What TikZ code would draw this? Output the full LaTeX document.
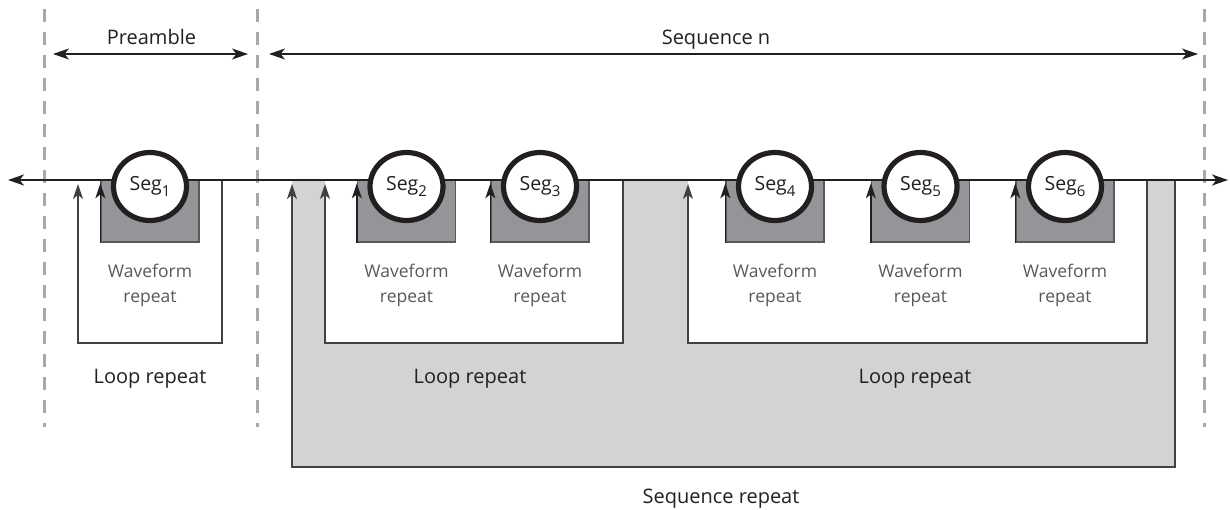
\documentclass[tikz,border=0pt]{standalone}
\usepackage{fontspec}
\setmainfont{Open Sans}
\usetikzlibrary{arrows.meta,shapes.geometric}
\definecolor{ink}{HTML}{231F20}
\definecolor{wgray}{HTML}{58595B}
\definecolor{boxgray}{HTML}{939598}
\definecolor{seqgray}{HTML}{D1D3D4}
\definecolor{dashgray}{HTML}{A7A9AC}
\definecolor{rimgray}{HTML}{414042}
\newcommand\segsub[1]{\raisebox{-6pt}{\fontsize{15}{15}\selectfont #1}}
\begin{document}
\begin{tikzpicture}[x=1pt,y=-1pt,
  tipA/.style={-{Stealth[length=15pt,width=10pt,inset=4pt]}},
  tipB/.style={{Stealth[length=16pt,width=11pt,inset=4.5pt]}-{Stealth[length=16pt,width=11pt,inset=4.5pt]}},
  dashline/.style={draw=dashgray,line width=3pt,dash pattern=on 13pt off 10pt},
  rim/.style={draw=rimgray,line width=1.5pt},
  mainline/.style={draw=ink,line width=2.5pt},
  dimline/.style={draw=ink,line width=1.6pt},
  wbox/.style={rectangle,fill=boxgray,draw=wgray,line width=1.3pt,minimum width=98pt,minimum height=62pt,inner sep=0pt},
  segc/.style={ellipse,fill=white,draw=ink,line width=5.2pt,minimum width=73pt,minimum height=68pt,inner sep=0pt,font=\fontsize{19.5}{22}\selectfont,text=ink},
  lbl/.style={anchor=base,inner sep=0pt,font=\fontsize{20}{24}\selectfont,text=ink},
  wlbl/.style={anchor=base,inner sep=0pt,font=\fontsize{17.5}{21}\selectfont,text=wgray}]
\useasboundingbox (0,0) rectangle (1230,510);
% dashed separators
\draw[dashline] (44,9) -- (44,427);
\draw[dashline] (257,9) -- (257,427);
\draw[dashline] (1204,9) -- (1204,427);
% dimension arrows
\coordinate (pa) at (53,54); \coordinate (pb) at (248,54);
\coordinate (sa) at (269,54); \coordinate (sb) at (1198,54);
\draw[dimline,tipB] (pa) -- (pb);
\draw[dimline,tipB] (sa) -- (sb);
\node[lbl] (tpre) at (151.5,45) {Preamble};
\node[lbl] (tseq) at (716,45) {Sequence n};
% sequence repeat region
\fill[seqgray,even odd rule] (292,180) rectangle (1175,467)
  (325,180) rectangle (623,343) (688,180) rectangle (1147,343);
\coordinate (q1) at (1175,180); \coordinate (q2) at (1175,467);
\coordinate (q3) at (292,467); \coordinate (q4) at (292,184);
\draw[rim,tipA] (q1) -- (q2) -- (q3) -- (q4);
% loop 1
\coordinate (a1) at (222,180); \coordinate (a2) at (222,343);
\coordinate (a3) at (78,343); \coordinate (a4) at (78,184);
\draw[rim,tipA] (a1) -- (a2) -- (a3) -- (a4);
% loop 2
\coordinate (c1) at (623,180); \coordinate (c2) at (623,343);
\coordinate (c3) at (325,343); \coordinate (c4) at (325,184);
\draw[rim,tipA] (c1) -- (c2) -- (c3) -- (c4);
% loop 3
\coordinate (d1) at (1147,180); \coordinate (d2) at (1147,343);
\coordinate (d3) at (688,343); \coordinate (d4) at (688,184);
\draw[rim,tipA] (d1) -- (d2) -- (d3) -- (d4);
% waveform boxes
\foreach \n/\x in {1/150,2/406.5,3/540,4/775,5/920.5,6/1065}{
  \node[wbox] (b\n) at (\x,211) {};
  \draw[rim,draw=ink,tipA] (b\n.south west) -- ([yshift=-4pt]b\n.north west);
  \node[wlbl] (w\n) at (\x,278) {Waveform};
  \node[wlbl] (r\n) at (\x,302) {repeat};
}
% main line
\coordinate (ml) at (8,180); \coordinate (mr) at (1228,180);
\draw[mainline,tipB] (ml) -- (mr);
% segment circles
\foreach \n/\x in {1/150,2/406.5,3/540,4/775,5/920.5,6/1065}{
  \node[segc] (s\n) at (\x,186.5) {Seg\segsub{\n}};
}
% labels
\node[lbl] (lr1) at (150,383) {Loop repeat};
\node[lbl] (lr2) at (470,383) {Loop repeat};
\node[lbl] (lr3) at (915,383) {Loop repeat};
\node[lbl] (sr) at (721,503) {Sequence repeat};
\end{tikzpicture}
\end{document}
